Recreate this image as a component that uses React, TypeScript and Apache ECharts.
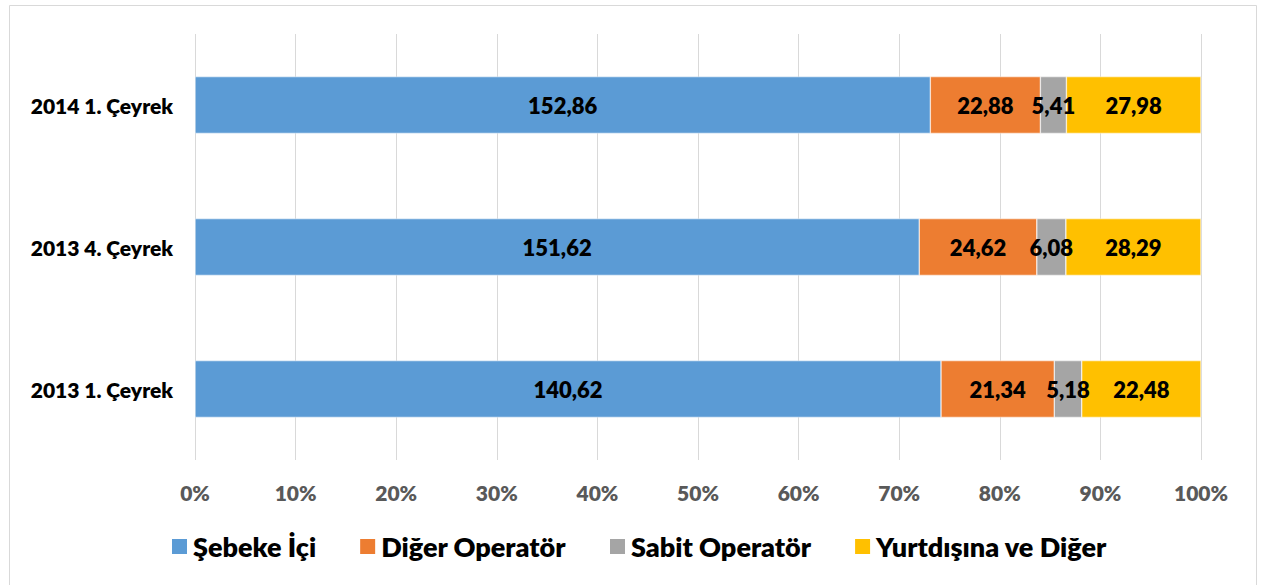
import React, { useEffect, useRef } from "react";
import * as echarts from "echarts";

const categories = ["2013 1. Çeyrek", "2013 4. Çeyrek", "2014 1. Çeyrek"];
const seriesNames = ["Şebeke İçi", "Diğer Operatör", "Sabit Operatör", "Yurtdışına ve Diğer"];
const sebekeIci = [140.62, 151.62, 152.86];
const digerOperator = [21.34, 24.62, 22.88];
const sabitOperator = [5.18, 6.08, 5.41];
const yurtdisi = [22.48, 28.29, 27.98];
const colors = ["#5B9BD5", "#ED7D31", "#A5A5A5", "#FFC000"];
const xTicks = [0, 10, 20, 30, 40, 50, 60, 70, 80, 90, 100];

const FONT = "Lato, 'Open Sans', sans-serif";
const W = 800;

export default function App() {
  const ref = useRef<HTMLDivElement>(null);
  useEffect(() => {
    if (!ref.current) return;
    const chart = echarts.init(ref.current, null, { renderer: "svg" });
    const raw = [sebekeIci, digerOperator, sabitOperator, yurtdisi];
    const totals = categories.map((_, i) => raw.reduce((s, arr) => s + arr[i], 0));
    const fmt = (v: number) => v.toFixed(2).replace(".", ",");
    chart.setOption({
      animation: false,
      textStyle: { fontFamily: FONT },
      graphic: [
        {
          type: "rect",
          shape: { x: 9.5, y: 5.5, width: 1247, height: 600 },
          style: { fill: "none", stroke: "#d9d9d9", lineWidth: 1 },
          silent: true,
        },
      ],
      grid: { left: 195, right: 64, top: 34, bottom: 125, containLabel: false },
      xAxis: {
        type: "value",
        min: 0,
        max: 100,
        interval: 10,
        axisLine: { show: false },
        axisTick: { show: false },
        splitLine: { lineStyle: { color: "#d9d9d9", width: 1 } },
        axisLabel: {
          formatter: (v: number) => (xTicks.includes(v) ? v + "%" : ""),
          color: "#595959",
          fontWeight: W,
          fontSize: 21,
          fontFamily: FONT,
          margin: 22,
        },
      },
      yAxis: {
        type: "category",
        data: categories,
        axisLine: { show: false },
        axisTick: { show: false },
        axisLabel: {
          color: "#000",
          fontWeight: W,
          fontSize: 21,
          fontFamily: FONT,
          margin: 22,
        },
      },
      legend: {
        bottom: 20,
        left: 165,
        itemWidth: 17,
        itemHeight: 17,
        itemGap: 42,
        icon: "rect",
        textStyle: { fontSize: 27, fontWeight: W, color: "#000", fontFamily: FONT },
        data: seriesNames,
      },
      series: seriesNames.map((name, si) => ({
        name,
        type: "bar",
        stack: "total",
        barCategoryGap: "60%",
        itemStyle: { color: colors[si], borderColor: "#fff", borderWidth: 0.5 },
        label: {
          show: true,
          position: "inside",
          color: "#000",
          fontWeight: W,
          fontSize: 22,
          fontFamily: FONT,
          formatter: (p: any) => fmt(raw[si][p.dataIndex]),
        },
        data: raw[si].map((v, i) => (v / totals[i]) * 100),
      })),
    });
    return () => chart.dispose();
  }, []);
  return (
    <div
      ref={ref}
      style={{ position: "fixed", left: 0, top: 0, width: 1265, height: 585, background: "#fff" }}
    />
  );
}
